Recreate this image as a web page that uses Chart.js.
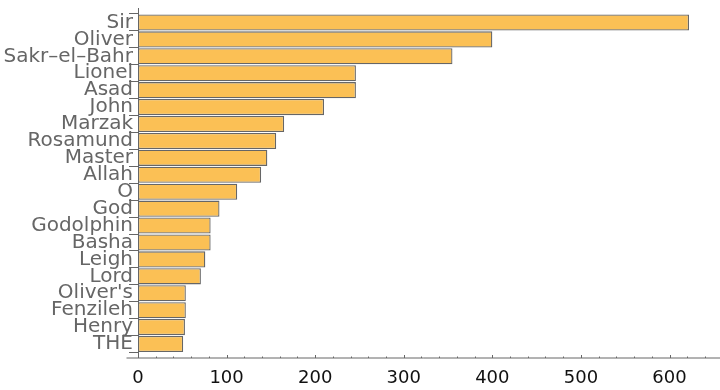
<!DOCTYPE html>
<html>
<head>
<meta charset="utf-8">
<script src="https://cdn.jsdelivr.net/npm/chart.js@4"></script>
<style>
  html, body { margin: 0; padding: 0; background: #fff; }
  canvas { display: block; }
</style>
</head>
<body>
<canvas id="myChart" width="720" height="390"></canvas>
<script>
// word counts, top to bottom
const labels = ["Sir", "Oliver", "Sakr\u2013el\u2013Bahr", "Lionel", "Asad", "John", "Marzak", "Rosamund", "Master", "Allah",
  "O", "God", "Godolphin", "Basha", "Leigh", "Lord", "Oliver's", "Fenzileh", "Henry", "THE"];
const counts = [622, 400, 355, 246, 246, 210, 165, 156, 146, 139, 112, 92, 82, 82, 76, 71, 54, 54, 53, 51];
const xTicks = [0, 100, 200, 300, 400, 500, 600];
const xMinorStep = 20;

// axis lines + small upward ticks, drawn a bit outside the plot like the original
const axesPlugin = {
  id: "axes",
  afterDraw(chart) {
    const ctx = chart.ctx;
    const area = chart.chartArea;
    const xs = chart.scales.x;
    const axisY = area.bottom + 5.5;
    ctx.save();
    ctx.strokeStyle = "#666";
    ctx.lineWidth = 1;
    ctx.beginPath();
    ctx.moveTo(area.left + 0.5, area.top - 6);
    ctx.lineTo(area.left + 0.5, axisY);
    ctx.moveTo(area.left - 11.5, axisY);
    ctx.lineTo(720, axisY);
    for (let v = 0; v <= xs.max; v += xMinorStep) {
      const px = Math.round(xs.getPixelForValue(v)) + 0.5;
      const len = v % 100 === 0 ? 3 : 1.5;
      ctx.moveTo(px, axisY);
      ctx.lineTo(px, axisY - len);
    }
    ctx.stroke();
    ctx.restore();
  }
};

const myChart = new Chart(document.getElementById("myChart").getContext("2d"), {
  type: "bar",
  data: {
    labels: labels,
    datasets: [{
      data: counts,
      backgroundColor: "#fbc055",
      borderColor: "#666",
      borderWidth: 1.3,
      borderSkipped: false,
      categoryPercentage: 1,
      barPercentage: 0.95
    }]
  },
  options: {
    indexAxis: "y",
    responsive: false,
    animation: false,
    devicePixelRatio: 1,
    layout: { padding: { top: 14, left: 0, right: 0, bottom: 0 } },
    plugins: { legend: { display: false }, tooltip: { enabled: false } },
    scales: {
      y: {
        type: "category",
        offset: true,
        grid: { offset: true, drawOnChartArea: false, tickLength: 9, color: "#666" },
        border: { display: false },
        ticks: {
          autoSkip: false,
          padding: -4,
          color: "#666",
          font: { family: "DejaVu Sans", size: 20 }
        },
        afterFit: (s) => { s.width = 138; }
      },
      x: {
        min: 0,
        max: 657,
        grid: { display: false, drawTicks: false },
        border: { display: false },
        ticks: {
          padding: 15,
          color: "#111",
          maxRotation: 0,
          font: { family: "DejaVu Sans", size: 18 }
        },
        afterBuildTicks: (s) => { s.ticks = xTicks.map((v) => ({ value: v })); },
        afterFit: (s) => { s.height = 37.5; }
      }
    }
  },
  plugins: [axesPlugin]
});
</script>
</body>
</html>
